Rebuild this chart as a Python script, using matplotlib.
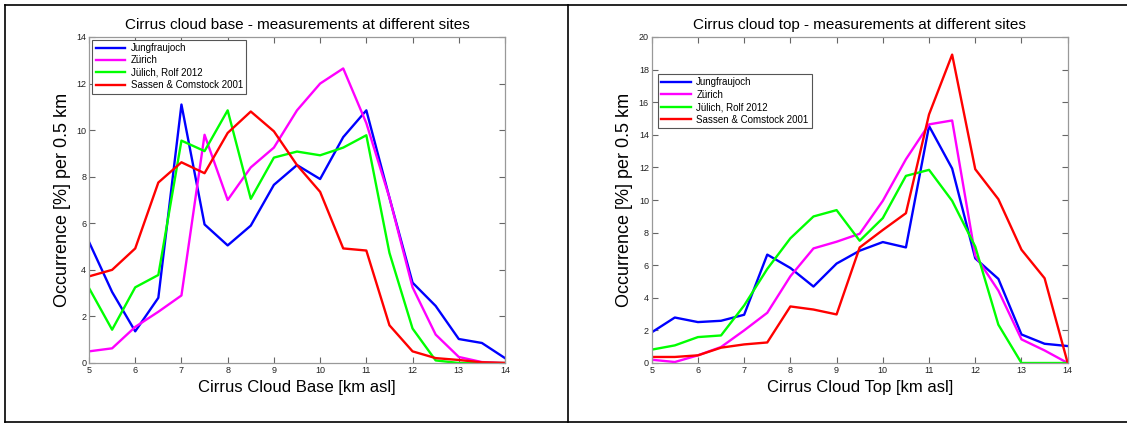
import matplotlib
matplotlib.use("Agg")
import matplotlib.pyplot as plt
from matplotlib.lines import Line2D
import numpy as np

plt.rcParams['font.family'] = ['Liberation Sans', 'DejaVu Sans']

# altitude bins [km asl]
alt = np.arange(5, 14.01, 0.5)

labels = ['Jungfraujoch', 'Zürich', 'Jülich, Rolf 2012', 'Sassen & Comstock 2001']
colors = ['#0000ff', '#ff00ff', '#00ff00', '#ff0000']

# cloud base occurrence [%] per 0.5 km
base_jungfraujoch = [5.2, 3.05, 1.36, 2.8, 11.1, 5.95, 5.05, 5.9, 7.65, 8.5, 7.9,
                     9.7, 10.85, 7.1, 3.45, 2.45, 1.03, 0.86, 0.21]
base_zurich = [0.5, 0.63, 1.55, 2.2, 2.9, 9.8, 7.0, 8.4, 9.25, 10.85, 12.0,
               12.65, 10.3, 7.1, 3.25, 1.22, 0.26, 0.04, 0.0]
base_juelich = [3.22, 1.43, 3.25, 3.78, 9.55, 9.1, 10.85, 7.05, 8.82, 9.08, 8.92,
                9.25, 9.78, 4.73, 1.48, 0.11, 0.0, 0.0, 0.0]
base_sassen = [3.72, 4.0, 4.92, 7.75, 8.62, 8.15, 9.88, 10.8, 9.95, 8.5, 7.35,
               4.92, 4.83, 1.62, 0.5, 0.21, 0.13, 0.03, 0.0]

# cloud top occurrence [%] per 0.5 km
top_jungfraujoch = [1.88, 2.79, 2.51, 2.59, 2.96, 6.65, 5.83, 4.69, 6.1, 6.89, 7.42,
                    7.09, 14.54, 11.93, 6.42, 5.16, 1.75, 1.18, 1.04]
top_zurich = [0.2, 0.06, 0.47, 0.98, 2.0, 3.08, 5.32, 7.03, 7.44, 7.93, 9.95,
              12.5, 14.64, 14.88, 6.59, 4.44, 1.45, 0.77, 0.0]
top_juelich = [0.82, 1.08, 1.59, 1.69, 3.53, 5.77, 7.65, 8.99, 9.38, 7.5, 8.89,
               11.48, 11.85, 9.95, 7.14, 2.35, 0.0, 0.0, 0.0]
top_sassen = [0.37, 0.37, 0.47, 0.94, 1.14, 1.26, 3.47, 3.28, 2.98, 7.09, 8.16,
              9.19, 15.25, 18.92, 11.89, 10.05, 6.95, 5.2, 0.0]

base_series = [base_jungfraujoch, base_zurich, base_juelich, base_sassen]
top_series = [top_jungfraujoch, top_zurich, top_juelich, top_sassen]

fig = plt.figure(figsize=(11.27, 4.24), dpi=100)

ax1 = fig.add_axes([89/1127, 1-363/424, 416/1127, 326/424])
ax2 = fig.add_axes([651.7/1127, 1-363/424, 416/1127, 326/424])


def style_axes(ax, ymax, title, xlabel):
    ax.set_xlim(5, 14)
    ax.set_ylim(0, ymax)
    ax.set_xticks(np.arange(5, 15, 1))
    ax.set_yticks(np.arange(0, ymax + 1, 2))
    ax.tick_params(direction='in', top=True, right=True, length=4, width=0.8,
                   labelsize=6.5, colors='#666666', labelcolor='#222222', pad=2)
    for sp in ax.spines.values():
        sp.set_color('#999999')
        sp.set_linewidth(0.9)
    ax.set_title(title, fontsize=11, pad=6)
    ax.set_xlabel(xlabel, fontsize=12, labelpad=4)
    ax.set_ylabel('Occurrence [%] per 0.5 km', fontsize=13, labelpad=4)


for vals, lab, c in zip(base_series, labels, colors):
    ax1.plot(alt, vals, color=c, lw=1.7, label=lab)
for vals, lab, c in zip(top_series, labels, colors):
    ax2.plot(alt, vals, color=c, lw=1.7, label=lab)

style_axes(ax1, 14, 'Cirrus cloud base - measurements at different sites',
           'Cirrus Cloud Base [km asl]')
style_axes(ax2, 20, 'Cirrus cloud top - measurements at different sites',
           'Cirrus Cloud Top [km asl]')

leg_kw = dict(fontsize=7, handlelength=3.0, handletextpad=0.6, labelspacing=0.25,
              borderpad=0.35, fancybox=False, framealpha=1, edgecolor='#555555',
              loc='upper left')
l1 = ax1.legend(bbox_to_anchor=(0.008, 0.992), borderaxespad=0, **leg_kw)
l2 = ax2.legend(bbox_to_anchor=(0.015, 0.887), borderaxespad=0, **leg_kw)
for lg in (l1, l2):
    lg.get_frame().set_linewidth(0.8)

# table-like border lines around the two panels
H, W = 424.0, 1127.0
border = dict(color='black', lw=1.2, transform=fig.transFigure)
fig.add_artist(Line2D([5/W, 1.0], [1-4.5/H, 1-4.5/H], **border))
fig.add_artist(Line2D([5/W, 1.0], [1-422/H, 1-422/H], **border))
fig.add_artist(Line2D([5/W, 5/W], [1-4.5/H, 1-422/H], **border))
fig.add_artist(Line2D([567.7/W, 567.7/W], [1-4.5/H, 1-422/H], **border))

fig.savefig('out.png', dpi=100)
